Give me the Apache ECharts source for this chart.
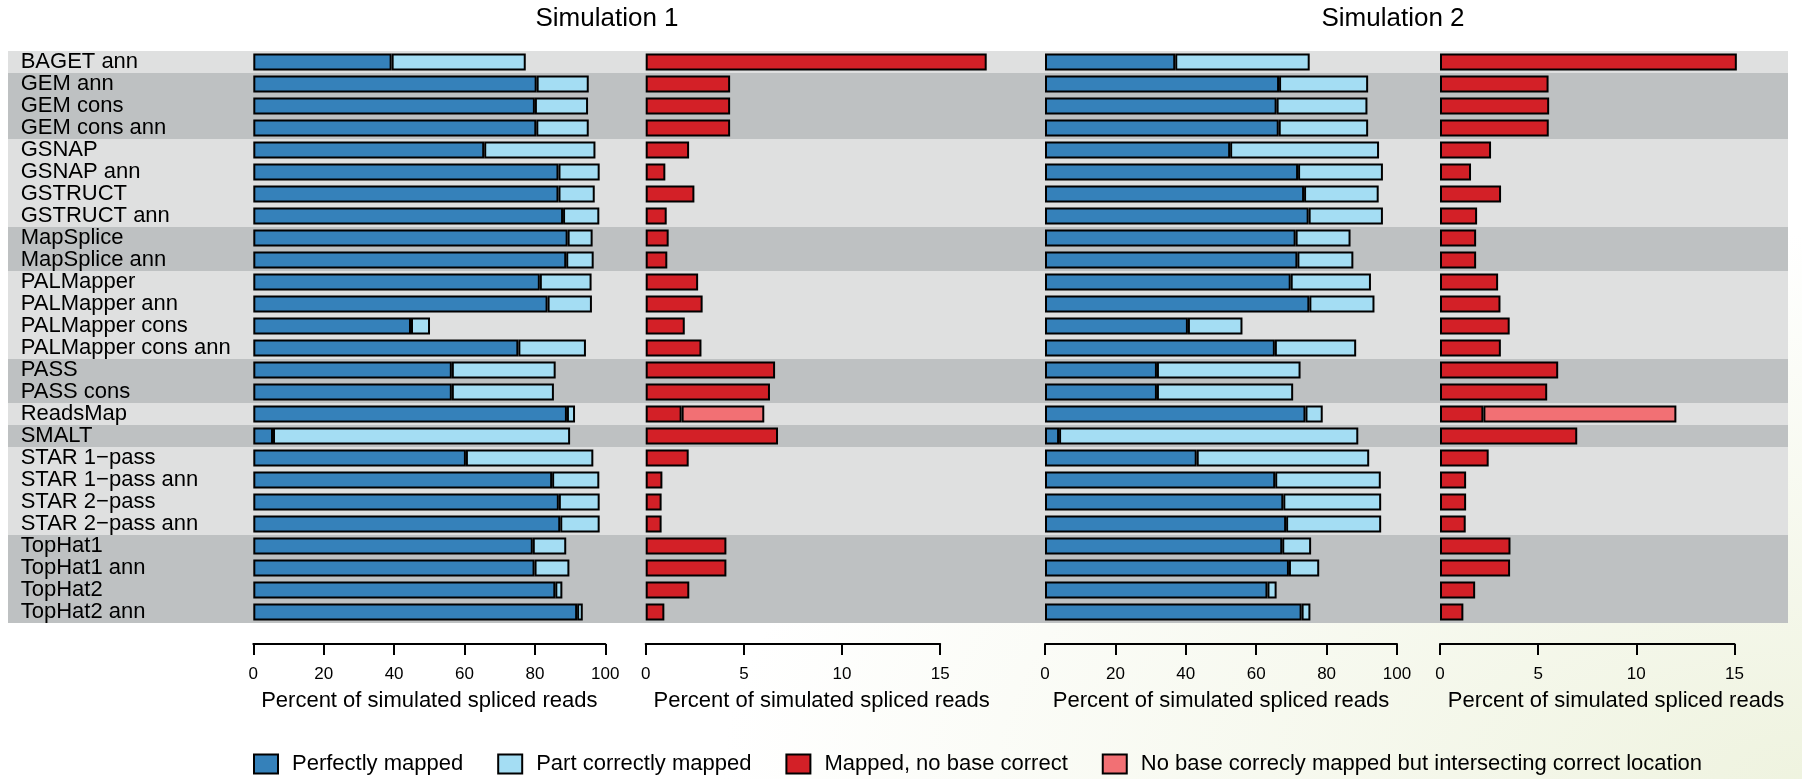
<!DOCTYPE html>
<html>
<head>
<meta charset="utf-8">
<script src="https://cdn.jsdelivr.net/npm/echarts@6/dist/echarts.min.js"></script>
<style>
  html, body { margin: 0; padding: 0; background: #ffffff; }
  #chart {
    width: 1802px; height: 779px;
    background:
      radial-gradient(ellipse 60% 70% at 100% 100%, rgba(236, 241, 218, 0.85), rgba(255, 255, 255, 0) 100%),
      #ffffff;
  }
</style>
</head>
<body>
<div id="chart"></div>
<script>
// Aligners, top to bottom
const aligners = [
  'BAGET ann', 'GEM ann', 'GEM cons', 'GEM cons ann', 'GSNAP', 'GSNAP ann',
  'GSTRUCT', 'GSTRUCT ann', 'MapSplice', 'MapSplice ann', 'PALMapper',
  'PALMapper ann', 'PALMapper cons', 'PALMapper cons ann', 'PASS', 'PASS cons',
  'ReadsMap', 'SMALT', 'STAR 1\u2212pass', 'STAR 1\u2212pass ann', 'STAR 2\u2212pass',
  'STAR 2\u2212pass ann', 'TopHat1', 'TopHat1 ann', 'TopHat2', 'TopHat2 ann'
];
// Tool family of each row (used for the alternating background bands)
const toolGroup = [0, 1, 1, 1, 2, 2, 2, 2, 3, 3, 4, 4, 4, 4, 5, 5, 6, 7, 8, 8, 8, 8, 9, 9, 9, 9];

// Simulation 1 (percent of simulated spliced reads)
const sim1Perfect = [39.3, 80.5, 80.0, 80.4, 65.6, 86.7, 86.7, 88.0, 89.3, 88.9, 81.4, 83.6, 44.8,
                     75.3, 56.4, 56.4, 89.1, 5.6, 60.4, 84.9, 86.8, 87.2, 79.4, 79.9, 85.8, 92.0];
const sim1Part    = [38.1, 14.8, 15.1, 14.9, 31.6, 11.7, 10.3, 10.3, 7.1, 7.8, 14.7, 12.6, 5.4,
                     19.2, 29.5, 29.0, 2.3, 84.4, 36.2, 13.4, 11.6, 11.2, 9.5, 9.9, 2.0, 1.6];
const sim1NoBase  = [17.37, 4.30, 4.30, 4.30, 2.21, 1.00, 2.48, 1.07, 1.17, 1.10, 2.67, 2.90, 1.99,
                     2.84, 6.59, 6.33, 1.83, 6.74, 2.19, 0.85, 0.81, 0.81, 4.11, 4.11, 2.22, 0.95];
const sim1Overlap = [0, 0, 0, 0, 0, 0, 0, 0, 0, 0, 0, 0, 0,
                     0, 0, 0, 4.21, 0, 0, 0, 0, 0, 0, 0, 0, 0];

// Simulation 2
const sim2Perfect = [37.0, 66.5, 65.8, 66.4, 52.6, 71.9, 73.6, 74.9, 71.2, 71.7, 69.8, 75.1, 40.6,
                     65.3, 31.8, 31.8, 74.0, 4.0, 43.1, 65.4, 67.7, 68.5, 67.4, 69.3, 63.2, 72.9];
const sim2Part    = [38.2, 25.3, 25.8, 25.4, 42.3, 24.1, 21.2, 21.1, 15.6, 15.9, 22.8, 18.5, 15.5,
                     23.1, 40.8, 38.7, 4.9, 85.0, 49.0, 30.0, 27.8, 27.0, 8.2, 8.6, 2.6, 2.5];
const sim2NoBase  = [15.12, 5.53, 5.56, 5.54, 2.60, 1.58, 3.11, 1.89, 1.84, 1.84, 2.96, 3.08, 3.55,
                     3.10, 6.02, 5.46, 2.21, 6.99, 2.48, 1.33, 1.33, 1.31, 3.59, 3.57, 1.79, 1.19];
const sim2Overlap = [0, 0, 0, 0, 0, 0, 0, 0, 0, 0, 0, 0, 0,
                     0, 0, 0, 9.83, 0, 0, 0, 0, 0, 0, 0, 0, 0];

const simTitles = ['Simulation 1', 'Simulation 2'];
const seriesNames = ['Perfectly mapped', 'Part correctly mapped', 'Mapped, no base correct',
                     'No base correcly mapped but intersecting correct location'];
const axisTitle = 'Percent of simulated spliced reads';

const COLORS = { perfect: '#3581ba', part: '#a4ddf3', noBase: '#d32027', overlap: '#f27074',
                 bandLight: '#dfe0e0', bandDark: '#bec1c2' };
const FONT = "'Liberation Sans', Arial, Helvetica, sans-serif";

const TOP = 51, HEIGHT = 572;
const PANEL_W = 352;                 // every panel's plotting width
const RED_MAX = 17.93;               // right end of the "wrong" panels
const RED_AXIS_W = PANEL_W * 15 / RED_MAX;
const AXIS_OFFSET = 21;

// zero-length segments are not drawn
const nz = arr => arr.map(v => (v === 0 ? '-' : v));

const grids = [
  { left: 8, top: TOP, width: 1780, height: HEIGHT },       // 0: bands
  { left: 253.3, top: TOP, width: PANEL_W, height: HEIGHT }, // 1: sim1 correct
  { left: 645.7, top: TOP, width: PANEL_W, height: HEIGHT }, // 2: sim1 wrong
  { left: 645.7, top: TOP, width: RED_AXIS_W, height: HEIGHT }, // 3: sim1 wrong axis
  { left: 1045, top: TOP, width: PANEL_W, height: HEIGHT },  // 4: sim2 correct
  { left: 1440, top: TOP, width: PANEL_W, height: HEIGHT },  // 5: sim2 wrong
  { left: 1440, top: TOP, width: RED_AXIS_W, height: HEIGHT } // 6: sim2 wrong axis
];

const axisLine = { show: true, lineStyle: { color: '#000', width: 2 } };
const axisTick = { show: true, length: 11, lineStyle: { color: '#000', width: 2 } };
const axisLabel = { show: true, color: '#000', fontSize: 17, margin: 22, fontFamily: FONT };
const nameStyle = { color: '#000', fontSize: 22, fontFamily: FONT };
const hidden = { axisLine: { show: false }, axisTick: { show: false },
                 axisLabel: { show: false }, splitLine: { show: false } };

function correctAxis(grid) {
  return { type: 'value', gridIndex: grid, min: 0, max: 100, interval: 20, offset: AXIS_OFFSET,
           axisLine, axisTick, axisLabel, splitLine: { show: false },
           name: axisTitle, nameLocation: 'middle', nameGap: 46, nameTextStyle: nameStyle };
}
function wrongNameAxis(grid) {
  return Object.assign({ type: 'value', gridIndex: grid, min: 0, max: RED_MAX, offset: AXIS_OFFSET,
           name: axisTitle, nameLocation: 'middle', nameGap: 46, nameTextStyle: nameStyle }, hidden);
}
function wrongTickAxis(grid) {
  return { type: 'value', gridIndex: grid, min: 0, max: 15, interval: 5, offset: AXIS_OFFSET,
           axisLine, axisTick, axisLabel, splitLine: { show: false } };
}

const xAxis = [
  Object.assign({ type: 'value', gridIndex: 0, min: 0, max: 1 }, hidden),
  correctAxis(1), wrongNameAxis(2), wrongTickAxis(3),
  correctAxis(4), wrongNameAxis(5), wrongTickAxis(6)
];

const yAxis = grids.map((g, i) => {
  const base = { type: 'category', gridIndex: i, data: aligners, inverse: true,
                 axisLine: { show: false }, axisTick: { show: false }, splitLine: { show: false } };
  if (i === 1) {
    // row names sit on top of the background bands
    base.z = 10;
    base.axisLabel = { show: true, interval: 0, align: 'left', margin: 232.6, color: '#000',
                       fontSize: 22, fontFamily: FONT };
  } else {
    base.axisLabel = { show: false };
  }
  return base;
});

const barStyle = color => ({ color, borderColor: '#000', borderWidth: 2 });
function barSeries(name, data, axisIdx, stack, color) {
  return { type: 'bar', name, xAxisIndex: axisIdx, yAxisIndex: axisIdx, stack,
           data: nz(data), barWidth: 17, itemStyle: barStyle(color), z: 3,
           clip: false, silent: true };
}

const series = [
  {
    type: 'bar', name: 'bands', xAxisIndex: 0, yAxisIndex: 0, barWidth: '100%', z: 1, silent: true,
    data: toolGroup.map(g => ({ value: 1,
      itemStyle: { color: g % 2 === 0 ? COLORS.bandLight : COLORS.bandDark } }))
  },
  barSeries(seriesNames[0], sim1Perfect, 1, 'c1', COLORS.perfect),
  barSeries(seriesNames[1], sim1Part, 1, 'c1', COLORS.part),
  barSeries(seriesNames[2], sim1NoBase, 2, 'w1', COLORS.noBase),
  barSeries(seriesNames[3], sim1Overlap, 2, 'w1', COLORS.overlap),
  barSeries(seriesNames[0], sim2Perfect, 4, 'c2', COLORS.perfect),
  barSeries(seriesNames[1], sim2Part, 4, 'c2', COLORS.part),
  barSeries(seriesNames[2], sim2NoBase, 5, 'w2', COLORS.noBase),
  barSeries(seriesNames[3], sim2Overlap, 5, 'w2', COLORS.overlap)
];

const chart = echarts.init(document.getElementById('chart'), null, { renderer: 'canvas' });
chart.setOption({
  animation: false,
  backgroundColor: 'transparent',
  textStyle: { fontFamily: FONT },
  title: [
    { text: simTitles[0], left: 607, top: 6, textAlign: 'center', padding: 0,
      textStyle: { color: '#000', fontSize: 26, fontWeight: 'normal', fontFamily: FONT } },
    { text: simTitles[1], left: 1393, top: 6, textAlign: 'center', padding: 0,
      textStyle: { color: '#000', fontSize: 26, fontWeight: 'normal', fontFamily: FONT } }
  ],
  legend: {
    data: seriesNames, left: 253, top: 753, orient: 'horizontal', padding: 0,
    icon: 'rect', itemWidth: 24, itemHeight: 19, itemGap: 34,
    itemStyle: { borderColor: '#000', borderWidth: 2 },
    textStyle: { color: '#000', fontSize: 22, fontFamily: FONT, padding: [0, 0, 0, 9] },
    selectedMode: false
  },
  grid: grids,
  xAxis, yAxis, series
});
</script>
</body>
</html>
